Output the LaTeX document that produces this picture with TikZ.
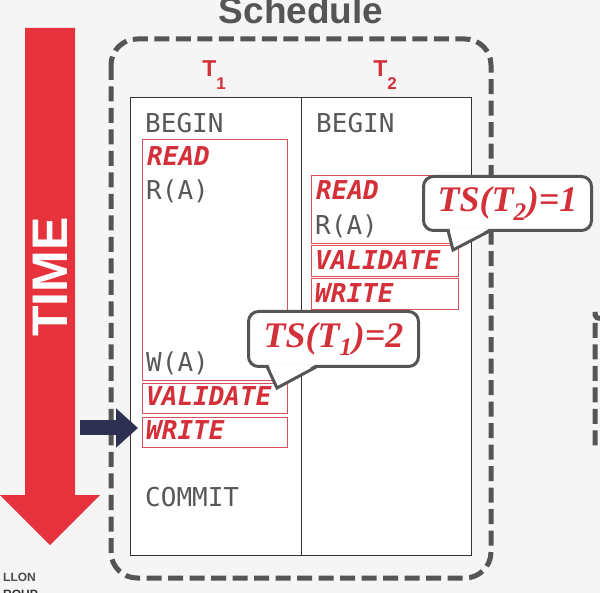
\documentclass[tikz,border=0pt]{standalone}
\usepackage{fontspec}
\usepackage{xcolor}
\usepackage{tikz}
\usetikzlibrary{arrows.meta}
\setmainfont{Liberation Sans}
\newfontfamily\codefont{DejaVu Sans Mono}
\newfontfamily\tsfont{Liberation Serif}
\definecolor{timered}{RGB}{230,50,60}
\definecolor{phasered}{RGB}{212,48,58}
\definecolor{dashgray}{RGB}{85,85,85}
\definecolor{codegray}{RGB}{88,88,88}
\definecolor{pointer}{RGB}{46,48,82}
\definecolor{bggray}{RGB}{245,245,245}
\newcommand{\tsub}[1]{\raisebox{-13pt}{\fontsize{17}{17}\selectfont #1}}
\tikzset{
  code/.style={font=\codefont\fontsize{26}{26}\selectfont, text=codegray, inner sep=0pt, anchor=base west},
  phase/.style={code, font=\codefont\bfseries\itshape\fontsize{26}{26}\selectfont, text=phasered},
  phasebox/.style={draw=phasered!85, line width=1.4pt, anchor=north west, inner sep=0pt},
  thead/.style={font=\bfseries\fontsize{23}{23}\selectfont, text=phasered, inner sep=0pt, anchor=base},
  schedbox/.style={draw=dashgray, line width=5pt, dash pattern=on 15pt off 6.5pt, rounded corners=26pt},
  bubble/.style={draw=dashgray, line width=3pt, fill=white, rounded corners=10pt, outer sep=0pt,
    font=\tsfont\bfseries\itshape\fontsize{36}{36}\selectfont, text=phasered},
  bubbletail/.style={draw=dashgray, line width=3pt, line join=miter}
}
\begin{document}
\begin{tikzpicture}[x=1pt, y=-1pt]
  \useasboundingbox (0,0) rectangle (600,593);
  \clip (0,0) rectangle (600,593);
  \fill[bggray] (0,0) rectangle (600,593);

  % time arrow
  \fill[timered] (25,28) -- (75,28) -- (75,495) -- (100,495) -- (50,545) -- (0,495) -- (25,495) -- cycle;
  \node[rotate=90, text=white, font=\bfseries\fontsize{50}{50}\selectfont, inner sep=0pt] (time) at (50,277) {TIME};

  % schedule frames
  \draw[schedbox] (111,39) rectangle (491,578);
  \draw[schedbox, dash phase=15pt] (595,452) -- (595,338) arc[start angle=180, end angle=270, radius=24];
  \node[font=\bfseries\fontsize{37}{37}\selectfont, text=dashgray, anchor=base, inner sep=0pt] (title) at (301,24) {Schedule};

  % table
  \node[draw=black!80, line width=1.2pt, fill=white, minimum width=341, minimum height=458, anchor=north west, inner sep=0pt] (sched) at (130,97) {};
  \draw[black!80, line width=1.2pt] (sched.north) -- (sched.south);

  \foreach \x [count=\i] in {214, 385}{%
    \node[thead] (t\i) at (\x,77) {T\tsub{\i}};
    \node[code] (begin\i) at (\x-69,133) {BEGIN};
  }

  % phases
  \foreach \nm/\x/\y/\w/\h in {read1/142/139/145/241, val1/142/383/145/30, wr1/142/417/145/30,
                               read2/311/175/147/68, val2/311/245/147/31, wr2/311/278/147/31}{%
    \node[phasebox, minimum width=\w, minimum height=\h] (\nm) at (\x,\y) {};
  }
  \node[phase] (readlbl1) at (147,166) {READ};
  \node[code] (ra1) at (146,200) {R(A)};
  \node[code] (wa1) at (146,372) {W(A)};
  \node[phase] (vallbl1) at (146,406) {VALIDATE};
  \node[phase] (wrlbl1) at (146,440) {WRITE};
  \node[code] (commit1) at (145,507) {COMMIT};

  \node[phase] (readlbl2) at (316,200) {READ};
  \node[code] (ra2) at (315,235) {R(A)};
  \node[phase] (vallbl2) at (315,270) {VALIDATE};
  \node[phase] (wrlbl2) at (315,303) {WRITE};

  % timestamps
  \node[bubble, minimum width=168, minimum height=54] (ts2) at (507.5,203.5) {TS(T\textsubscript{2})=1};
  \coordinate (tip2) at (453,250);
  \fill[white] ([xshift=26pt,yshift=2pt]ts2.south west) -- (tip2) -- ([xshift=66pt,yshift=2pt]ts2.south west) -- cycle;
  \draw[bubbletail] ([xshift=24.5pt]ts2.south west) -- (tip2) -- ([xshift=67pt]ts2.south west);

  \node[bubble, minimum width=170, minimum height=55] (ts1) at (333.5,339) {TS(T\textsubscript{1})=2};
  \coordinate (tip1) at (277,388);
  \fill[white] ([xshift=20pt,yshift=2pt]ts1.south west) -- (tip1) -- ([xshift=67pt,yshift=2pt]ts1.south west) -- cycle;
  \draw[bubbletail] ([xshift=18.5pt]ts1.south west) -- (tip1) -- ([xshift=68.5pt]ts1.south west);

  % current step
  \coordinate (ptr) at (80,428);
  \draw[pointer, line width=15pt, -{Triangle[length=22pt, width=38pt]}, shorten >=4pt] (ptr) -- (ptr -| wr1.west);

  % logo
  \node[font=\bfseries\fontsize{12}{12}\selectfont, text=black!70, anchor=base west, inner sep=0pt] (logo1) at (3,581) {LLON};
  \node[font=\bfseries\fontsize{12}{12}\selectfont, text=black!80, anchor=base west, inner sep=0pt] (logo2) at (3,598) {ROUP};
\end{tikzpicture}
\end{document}
